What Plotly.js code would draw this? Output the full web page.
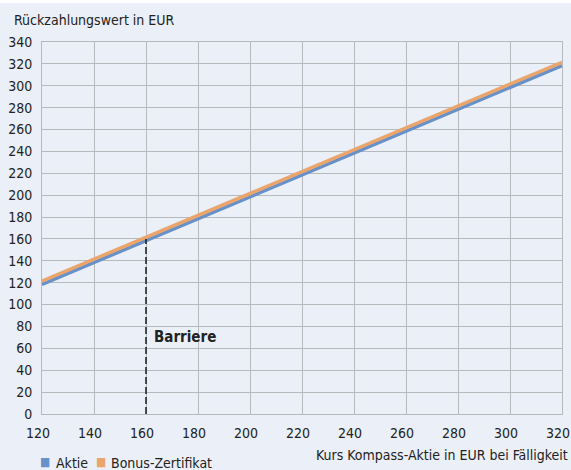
<!DOCTYPE html>
<html><head><meta charset="utf-8">
<script src="https://cdn.plot.ly/plotly-3.0.1.min.js"></script>
<style>
html,body{margin:0;padding:0;background:#ffffff;}
#chart{position:absolute;left:0;top:3px;width:571px;height:467px;}
</style>
</head><body>
<div id="chart"></div>
<script>
const kurs = [120, 320];
const aktie = [118.5, 318.5];
const bonus = [121.5, 321.5];
const barriere = 160;
const xTicks = [120,140,160,180,200,220,240,260,280,300,320];
const yTicks = [0,20,40,60,80,100,120,140,160,180,200,220,240,260,280,300,320,340];
const names = ['Aktie', 'Bonus-Zertifikat'];
const FONT = '"DejaVu Sans Condensed", "Liberation Sans Narrow", Arial, sans-serif';
const BLUE = '#6890c9', ORANGE = '#eaa56c', GRID = '#b7b9bd', BG = '#ebeff8', TXT = '#222222';

const traces = [
  {x: kurs, y: aktie, mode: 'lines', name: names[0], line: {color: BLUE, width: 3.5}, showlegend: false, hoverinfo: 'skip'},
  {x: kurs, y: bonus, mode: 'lines', name: names[1], line: {color: ORANGE, width: 3.5}, showlegend: false, hoverinfo: 'skip'},
  {x: [barriere, barriere], y: [0, barriere], mode: 'lines', line: {color: '#1a1a1a', width: 1.5, dash: '7px,3px'}, showlegend: false, hoverinfo: 'skip'}
];

const f14 = {family: FONT, size: 14, color: TXT};
const layout = {
  width: 571, height: 467,
  margin: {l: 42, r: 9, t: 39, b: 56, autoexpand: false},
  paper_bgcolor: BG, plot_bgcolor: BG,
  font: f14,
  showlegend: false,
  xaxis: {range: [120, 320], tickvals: xTicks, ticktext: xTicks.map(String), showgrid: true, gridcolor: GRID, gridwidth: 1,
          showline: true, linecolor: GRID, linewidth: 1, mirror: true, zeroline: false, ticks: '', ticklen: 0,
          ticklabelstandoff: 6, ticklabelshift: -4, ticklabeloverflow: 'allow', tickfont: f14, fixedrange: true},
  yaxis: {range: [0, 340], tickvals: yTicks, ticktext: yTicks.map(String), showgrid: true, gridcolor: GRID, gridwidth: 1,
          showline: true, linecolor: GRID, linewidth: 1, mirror: true, zeroline: false, ticks: '', ticklen: 0,
          ticklabelstandoff: 6, ticklabeloverflow: 'allow', tickfont: f14, fixedrange: true},
  annotations: [
    {text: 'Rückzahlungswert in EUR', xref: 'paper', yref: 'paper', x: -0.058, y: 1.058, xanchor: 'left', yanchor: 'middle', showarrow: false, font: f14},
    {text: 'Kurs Kompass-Aktie in EUR bei Fälligkeit', xref: 'paper', yref: 'paper', x: 1.0154, y: -0.110, xanchor: 'right', yanchor: 'middle', showarrow: false, font: f14},
    {text: '<b>Barriere</b>', xref: 'x', yref: 'y', x: barriere + 2.3, y: 70, xanchor: 'left', yanchor: 'middle', showarrow: false,
     font: {family: FONT, size: 15, color: TXT}},
    {text: '■', xref: 'paper', yref: 'paper', x: (45 - 42) / 520, y: -0.128, xanchor: 'center', yanchor: 'middle', showarrow: false,
     font: {family: FONT, size: 12, color: BLUE}},
    {text: names[0], xref: 'paper', yref: 'paper', x: (54 - 42) / 520, y: -0.131, xanchor: 'left', yanchor: 'middle', showarrow: false, font: f14},
    {text: '■', xref: 'paper', yref: 'paper', x: (101 - 42) / 520, y: -0.128, xanchor: 'center', yanchor: 'middle', showarrow: false,
     font: {family: FONT, size: 12, color: ORANGE}},
    {text: names[1], xref: 'paper', yref: 'paper', x: (109 - 42) / 520, y: -0.131, xanchor: 'left', yanchor: 'middle', showarrow: false, font: f14}
  ]
};

Plotly.newPlot('chart', traces, layout, {displayModeBar: false, staticPlot: true});
</script>
</body></html>
